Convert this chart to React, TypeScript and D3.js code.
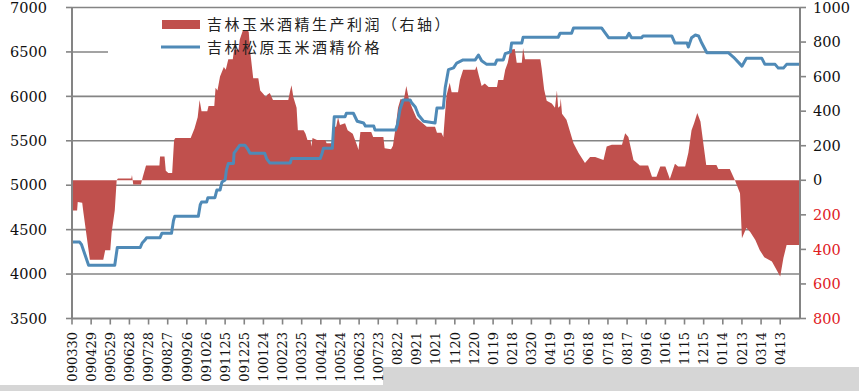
import React from "react";
import * as d3 from "d3";

// x values are days counted from 2009-03-30
const xTickLabels = [
  "090330", "090429", "090529", "090628", "090728", "090827", "090926", "091026",
  "091125", "091225", "100124", "100223", "100325", "100424", "100524", "100623",
  "100723", "0822", "0921", "1021", "1120", "1220", "0119", "0218", "0320", "0419",
  "0519", "0618", "0718", "0817", "0916", "1016", "1115", "1215", "0114", "0213",
  "0314", "0413",
];

const leftTicks = [3500, 4000, 4500, 5000, 5500, 6000, 6500, 7000];
const rightTicks = [-800, -600, -400, -200, 0, 200, 400, 600, 800, 1000];

// 吉林玉米酒精生产利润（右轴）
const profitDays = [
  0, 8, 9, 16, 18, 28, 49, 52, 60, 62, 67, 70, 72, 93, 94, 96, 108, 111, 116, 137,
  138, 145, 147, 151, 157, 160, 162, 186, 192, 197, 200, 203, 212, 214, 223, 225,
  228, 232, 238, 241, 245, 252, 254, 261, 263, 268, 274, 277, 279, 284, 292, 295,
  300, 304, 306, 310, 315, 339, 342, 344, 347, 352, 354, 363, 366, 369, 374, 375,
  377, 384, 397, 399, 408, 410, 414, 417, 420, 428, 432, 440, 447, 449, 452, 469,
  472, 488, 490, 500, 503, 507, 511, 515, 520, 524, 528, 533, 540, 556, 569, 572,
  579, 582, 585, 587, 592, 595, 605, 608, 613, 632, 634, 638, 642, 647, 653, 666,
  668, 676, 679, 683, 687, 694, 697, 705, 707, 710, 734, 736, 740, 744, 752, 757,
  760, 762, 765, 766, 768, 775, 786, 794, 804, 812, 820, 833, 838, 846, 862, 867,
  872, 880, 890, 903, 909, 916, 922, 930, 937, 945, 950, 961, 966, 971, 975, 980,
  985, 990, 994, 1010, 1013, 1031, 1039, 1047, 1050, 1057, 1063, 1071, 1078, 1085,
  1097, 1110, 1115, 1120, 1141,
];
const profitValues = [
  -175, -175, -125, -130, -190, -460, -460, -405, -405, -305, -175, 0, 10, 10, 30, -25, -25, 20, 85, 85,
  137, 137, 55, 42, 42, 233, 245, 245, 300, 365, 465, 400, 400, 430, 430, 535,
  520, 600, 655, 640, 700, 700, 755, 755, 815, 870, 870, 860, 755, 590, 590, 520,
  500, 480, 495, 505, 465, 465, 520, 550, 480, 420, 290, 290, 270, 233, 233, 195,
  245, 233, 233, 215, 215, 310, 310, 365, 320, 330, 290, 270, 200, 175, 280, 280,
  250, 250, 185, 180, 200, 300, 420, 470, 465, 545, 470, 420, 360, 310, 310, 275,
  275, 250, 400, 490, 565, 510, 510, 580, 640, 640, 660, 600, 545, 560, 540, 540,
  580, 580, 640, 680, 755, 760, 680, 680, 765, 700, 700, 650, 525, 460, 445, 420,
  520, 420, 430, 475, 385, 350, 215, 158, 100, 135, 135, 118, 195, 205, 205, 272,
  250, 118, 85, 85, 20, 20, 80, 80, 8, 95, 80, 80, 160, 290, 330, 390,
  340, 200, 88, 88, 65, 65, 0, -75, -335, -275, -300, -345, -405, -445,
  -470, -557, -450, -375, -375,
];

// 吉林松原玉米酒精价格
const priceDays = [
  0, 12, 15, 26, 67, 71, 107, 110, 114, 117, 138, 141, 156, 159, 161, 198, 201, 203,
  211, 213, 224, 227, 232, 235, 240, 242, 245, 253, 254, 258, 263, 271, 276, 279,
  302, 305, 310, 342, 344, 389, 392, 394, 408, 411, 428, 430, 441, 447, 457, 460,
  473, 475, 507, 510, 514, 519, 530, 532, 538, 543, 551, 569, 572, 582, 585, 590,
  598, 603, 613, 632, 637, 642, 650, 663, 666, 676, 679, 687, 689, 705, 707, 762,
  765, 783, 786, 830, 835, 841, 869, 873, 877, 893, 895, 940, 945, 964, 966, 971,
  977, 982, 987, 995, 1029, 1037, 1050, 1057, 1081, 1086, 1102, 1107, 1115, 1120, 1141,
];
const priceValues = [
  4360, 4360, 4330, 4100, 4100, 4300, 4300, 4350, 4380, 4410, 4410, 4460, 4460, 4600, 4650, 4650, 4780, 4810,
  4810, 4860, 4860, 4945, 4945, 5036, 5060, 5170, 5245, 5245, 5360, 5400, 5450, 5450, 5400, 5360,
  5360, 5300, 5250, 5250, 5300, 5300, 5360, 5415, 5415, 5770, 5770, 5810, 5810, 5720, 5700, 5665,
  5665, 5620, 5620, 5680, 5850, 5960, 5960, 5930, 5880, 5790, 5720, 5700, 5870, 5870, 6100, 6300,
  6320, 6375, 6410, 6410, 6465, 6400, 6360, 6360, 6410, 6410, 6480, 6500, 6600, 6600, 6665, 6665,
  6710, 6710, 6770, 6770, 6720, 6660, 6660, 6710, 6660, 6660, 6680, 6680, 6600, 6600, 6555, 6660,
  6690, 6680, 6600, 6490, 6490, 6440, 6340, 6430, 6430, 6360, 6360, 6318, 6318, 6360, 6360,
];

const W = 859;
const H = 391;
const left = 72;
const right = 800;
const top = 7.5;
const bottom = 318.5;

const gridColor = "#848484";
const numFont = "'DejaVu Serif', serif";
const cjkFont = "'Noto Sans CJK SC', sans-serif";

export default function App() {
  const x = d3.scaleLinear().domain([0, 1141]).range([left, right]);
  const yL = d3.scaleLinear().domain([3500, 7000]).range([bottom, top]);
  const yR = d3.scaleLinear().domain([-800, 1000]).range([bottom, top]);

  const profit = profitDays.map((d, i) => [d, profitValues[i]] as [number, number]);
  const price = priceDays.map((d, i) => [d, priceValues[i]] as [number, number]);

  const area = d3
    .area<[number, number]>()
    .x((d) => x(d[0]))
    .y0(yR(0))
    .y1((d) => yR(d[1]));
  const line = d3
    .line<[number, number]>()
    .x((d) => x(d[0]))
    .y((d) => yL(d[1]));

  return (
    <div style={{ position: "absolute", left: 0, top: 0 }}>
      <svg width={W} height={H} style={{ display: "block", background: "#fff" }}>
        {/* grey strip along the bottom of the page */}
        <rect x={0} y={385} width={383} height={6} fill="#d6d6d6" />
        <rect x={383} y={367} width={W - 383} height={24} fill="#d6d6d6" />

        {/* gridlines */}
        {leftTicks.slice(1).map((t) => (
          <line key={t} x1={left} x2={right} y1={yL(t)} y2={yL(t)} stroke={gridColor} strokeWidth={1.6} />
        ))}

        {/* legend box hides the grid behind it */}
        <rect x={108} y={12} width={404} height={50} fill="#fff" />

        <path d={area(profit) || ""} fill="#c0504d" />
        <path d={line(price) || ""} fill="none" stroke="#4f8ab7" strokeWidth={3} strokeLinejoin="round" />

        {/* axes */}
        <line x1={left} x2={left} y1={top} y2={bottom} stroke={gridColor} strokeWidth={2} />
        <line x1={right} x2={right} y1={top} y2={bottom} stroke={gridColor} strokeWidth={2} />
        <line x1={left} x2={right} y1={bottom} y2={bottom} stroke={gridColor} strokeWidth={2} />

        {leftTicks.map((t) => (
          <g key={t}>
            <line x1={left - 6} x2={left} y1={yL(t)} y2={yL(t)} stroke={gridColor} strokeWidth={1.6} />
            <text x={47} y={yL(t)} dy="0.36em" textAnchor="end" fontFamily={numFont} fontSize={14.5} fill="#111">
              {t}
            </text>
          </g>
        ))}

        {rightTicks.map((t) => (
          <g key={t}>
            <line x1={right} x2={right + 6} y1={yR(t)} y2={yR(t)} stroke={gridColor} strokeWidth={1.6} />
            <text
              x={813}
              y={yR(t)}
              dy="0.36em"
              fontFamily={numFont}
              fontSize={14.5}
              fill={t < 0 ? "#e0201e" : "#111"}
            >
              {Math.abs(t)}
            </text>
          </g>
        ))}

        {xTickLabels.map((lab, i) => {
          const px = x(i * 30);
          return (
            <g key={lab + i}>
              <line x1={px} x2={px} y1={bottom} y2={bottom + 6} stroke={gridColor} strokeWidth={1.6} />
              <text
                transform={`translate(${px},332) rotate(-90)`}
                dy="0.36em"
                textAnchor="end"
                fontFamily={numFont}
                fontSize={13}
                fill="#111"
              >
                {lab}
              </text>
            </g>
          );
        })}

        {/* legend */}
        <rect x={162} y={20} width={38} height={9} fill="#c0504d" />
        <text x={207} y={29.5} fontFamily={cjkFont} fontSize={15} letterSpacing={2.5} fill="#222">
          吉林玉米酒精生产利润（右轴）
        </text>
        <line x1={161} x2={200} y1={47} y2={47} stroke="#4f8ab7" strokeWidth={3} />
        <text x={207} y={52.5} fontFamily={cjkFont} fontSize={15} letterSpacing={2.5} fill="#222">
          吉林松原玉米酒精价格
        </text>
      </svg>
    </div>
  );
}
